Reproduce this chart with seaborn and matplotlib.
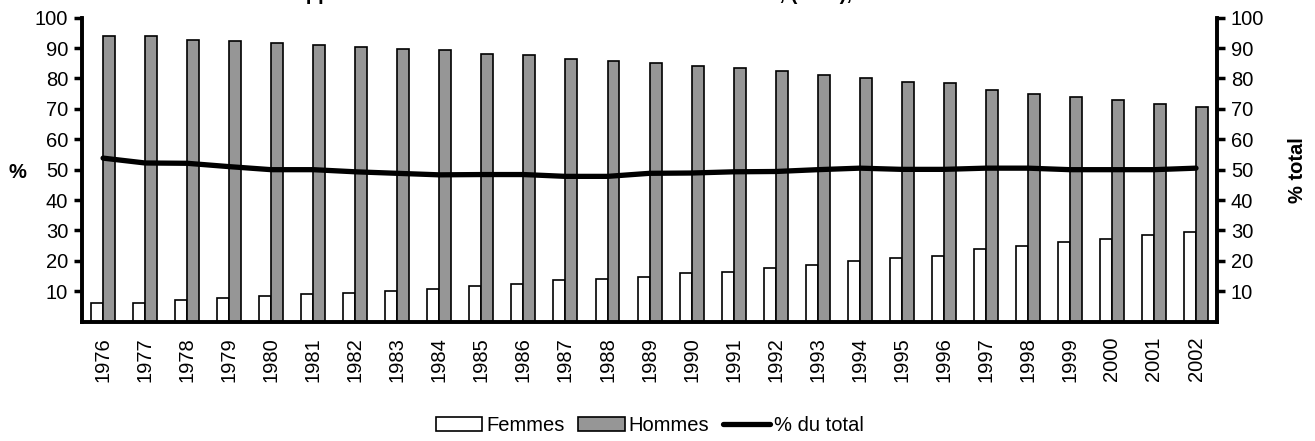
import matplotlib
matplotlib.use("Agg")
import matplotlib.pyplot as plt
import seaborn as sns
import numpy as np
import pandas as pd
from matplotlib.patches import Patch
from matplotlib.lines import Line2D

sns.set_style("white")
plt.rcParams["font.family"] = ["Liberation Sans", "DejaVu Sans"]
plt.rcParams["text.color"] = "black"
plt.rcParams["xtick.color"] = "black"
plt.rcParams["ytick.color"] = "black"
plt.rcParams["axes.edgecolor"] = "black"
plt.rcParams["axes.labelcolor"] = "black"

# =====================================================
# DATA
# =====================================================
years = [str(y) for y in range(1976, 2003)]
femmes = [6.2, 6.2, 7.2, 7.8, 8.5, 9.0, 9.6, 10.2, 10.7, 11.8, 12.4, 13.6, 14.2,
          14.8, 15.9, 16.4, 17.6, 18.8, 19.9, 21.1, 21.6, 23.9, 25.0, 26.1, 27.2,
          28.4, 29.5]
hommes = [93.8, 93.8, 92.8, 92.2, 91.5, 91.0, 90.4, 89.8, 89.3, 88.2, 87.6, 86.4,
          85.8, 85.2, 84.1, 83.6, 82.4, 81.2, 80.1, 78.9, 78.4, 76.1, 75.0, 73.9,
          72.8, 71.6, 70.5]
pct_total = [53.8, 52.2, 52.1, 51.0, 50.0, 50.0, 49.3, 48.8, 48.3, 48.4, 48.4, 47.8,
             47.8, 48.8, 48.9, 49.3, 49.4, 50.0, 50.5, 50.1, 50.1, 50.5, 50.5, 50.0,
             50.0, 50.0, 50.5]
series = ["Femmes", "Hommes"]
colors = {"Femmes": "#ffffff", "Hommes": "#969696"}
yticks = list(range(10, 101, 10))
title = "Rapport femmes/hommes entre des médecins actifs, (total), selon les années"

df = pd.DataFrame({"Année": years * 2,
                   "Sexe": ["Femmes"] * len(years) + ["Hommes"] * len(years),
                   "Valeur": femmes + hommes})

# =====================================================
# FIGURE
# =====================================================
FS = 14.5
fig = plt.figure(figsize=(13.15, 4.41), dpi=100)
ax = fig.add_axes([0.0624, 0.2705, 0.8631, 0.6895])

sns.barplot(data=df, x="Année", y="Valeur", hue="Sexe", hue_order=series,
            palette=colors, edgecolor="black", linewidth=1.2, width=0.57,
            ax=ax, legend=False)

ax2 = ax.twinx()
sns.lineplot(x=np.arange(len(years)), y=pct_total, color="black", linewidth=3.8,
             ax=ax2, legend=False)

n = len(years)
for a in (ax, ax2):
    a.set_ylim(0, 100)
    a.set_xlim(-0.5, n - 0.5)
    a.set_yticks(yticks)
    a.set_yticklabels([str(t) for t in yticks], fontsize=FS)
    a.tick_params(axis="y", length=6, width=2.5, direction="out", pad=4)
    for s in a.spines.values():
        s.set_linewidth(2.6)
    a.spines["top"].set_visible(False)

ax.set_xticks(np.arange(n))
ax.set_xticklabels(years, rotation=90, fontsize=FS)
ax.tick_params(axis="x", which="major", length=0, pad=11)
ax.set_xticks(np.arange(-0.5, n, 1), minor=True)
ax.tick_params(axis="x", which="minor", length=6, width=2.5, direction="out")
ax.set_xlabel("")

ax.set_ylabel("%", fontsize=FS, fontweight="bold", rotation=0, ha="center", va="center")
ax.yaxis.set_label_coords(-0.0565, 0.49)
ax2.set_ylabel("% total", fontsize=FS, fontweight="bold", rotation=90, va="center")
ax2.yaxis.set_label_coords(1.0705, 0.5)

fig.text(0.494, 1.012, title, ha="center", va="center", fontsize=FS,
         fontweight="bold")

handles = [Patch(facecolor=colors["Femmes"], edgecolor="black", linewidth=1.2),
           Patch(facecolor=colors["Hommes"], edgecolor="black", linewidth=1.2),
           Line2D([], [], color="black", linewidth=3.8)]
fig.legend(handles, series + ["% du total"], loc="center", ncol=3,
           bbox_to_anchor=(0.494, 0.036), frameon=False, fontsize=FS,
           handlelength=2.3, handleheight=0.7, handletextpad=0.2, columnspacing=0.7)

fig.savefig("out.png", dpi=100)
